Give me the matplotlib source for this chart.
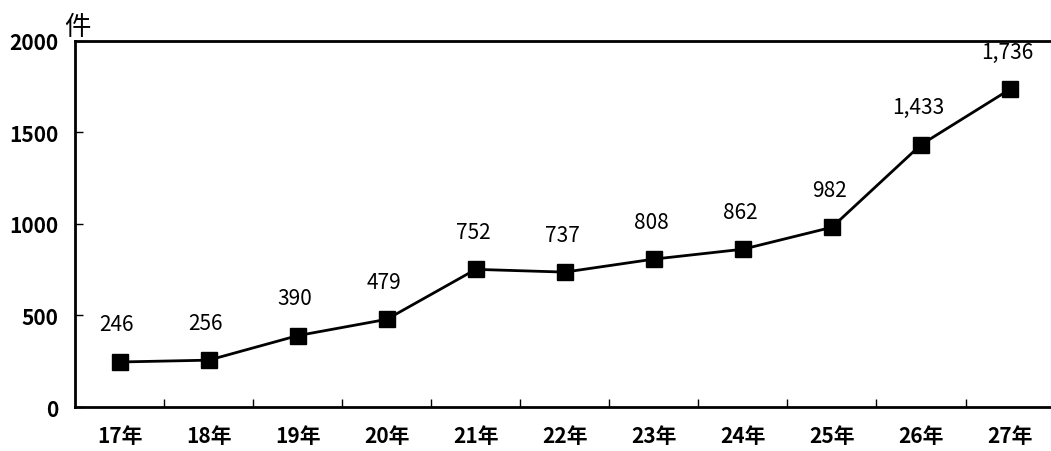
import matplotlib
matplotlib.use("Agg")
import matplotlib.pyplot as plt
from matplotlib.ticker import FixedLocator

plt.rcParams['font.family'] = ['Noto Sans CJK JP', 'DejaVu Sans']

years = ["17年", "18年", "19年", "20年", "21年", "22年", "23年", "24年", "25年", "26年", "27年"]
counts = [246, 256, 390, 479, 752, 737, 808, 862, 982, 1433, 1736]
y_ticks = [0, 500, 1000, 1500, 2000]

fig = plt.figure(figsize=(10.51, 4.52), dpi=100)
ax = fig.add_axes([0.0714, 0.0973, 0.932, 0.81])

x = list(range(len(years)))
ax.plot(x, counts, color='black', linewidth=2, marker='s', markersize=12,
        markerfacecolor='black', markeredgecolor='black', zorder=3)

for xi, v in zip(x, counts):
    ax.annotate(f"{v:,}", (xi, v), xytext=(-2, 27), textcoords='offset points',
                ha='center', va='center', fontsize=15, color='black')

ax.set_xlim(-0.5, len(years) - 0.5)
ax.set_ylim(0, 2000)
ax.set_xticks(x)
ax.set_xticklabels(years, fontsize=15, fontweight='bold')
ax.xaxis.set_minor_locator(FixedLocator([i + 0.5 for i in range(len(years) - 1)]))
ax.tick_params(axis='x', which='major', length=0, pad=13)
ax.tick_params(axis='x', which='minor', direction='in', length=6, width=1)
ax.set_yticks(y_ticks)
ax.set_yticklabels([str(t) for t in y_ticks], fontsize=15, fontweight='bold')
ax.tick_params(axis='y', direction='in', length=6, width=1, pad=12)

for side in ['left', 'bottom', 'top']:
    ax.spines[side].set_linewidth(2)
ax.spines['right'].set_visible(False)

fig.text(0.074, 0.94, "件", fontsize=19, ha='center', va='center')

fig.savefig("out.png", dpi=100)
